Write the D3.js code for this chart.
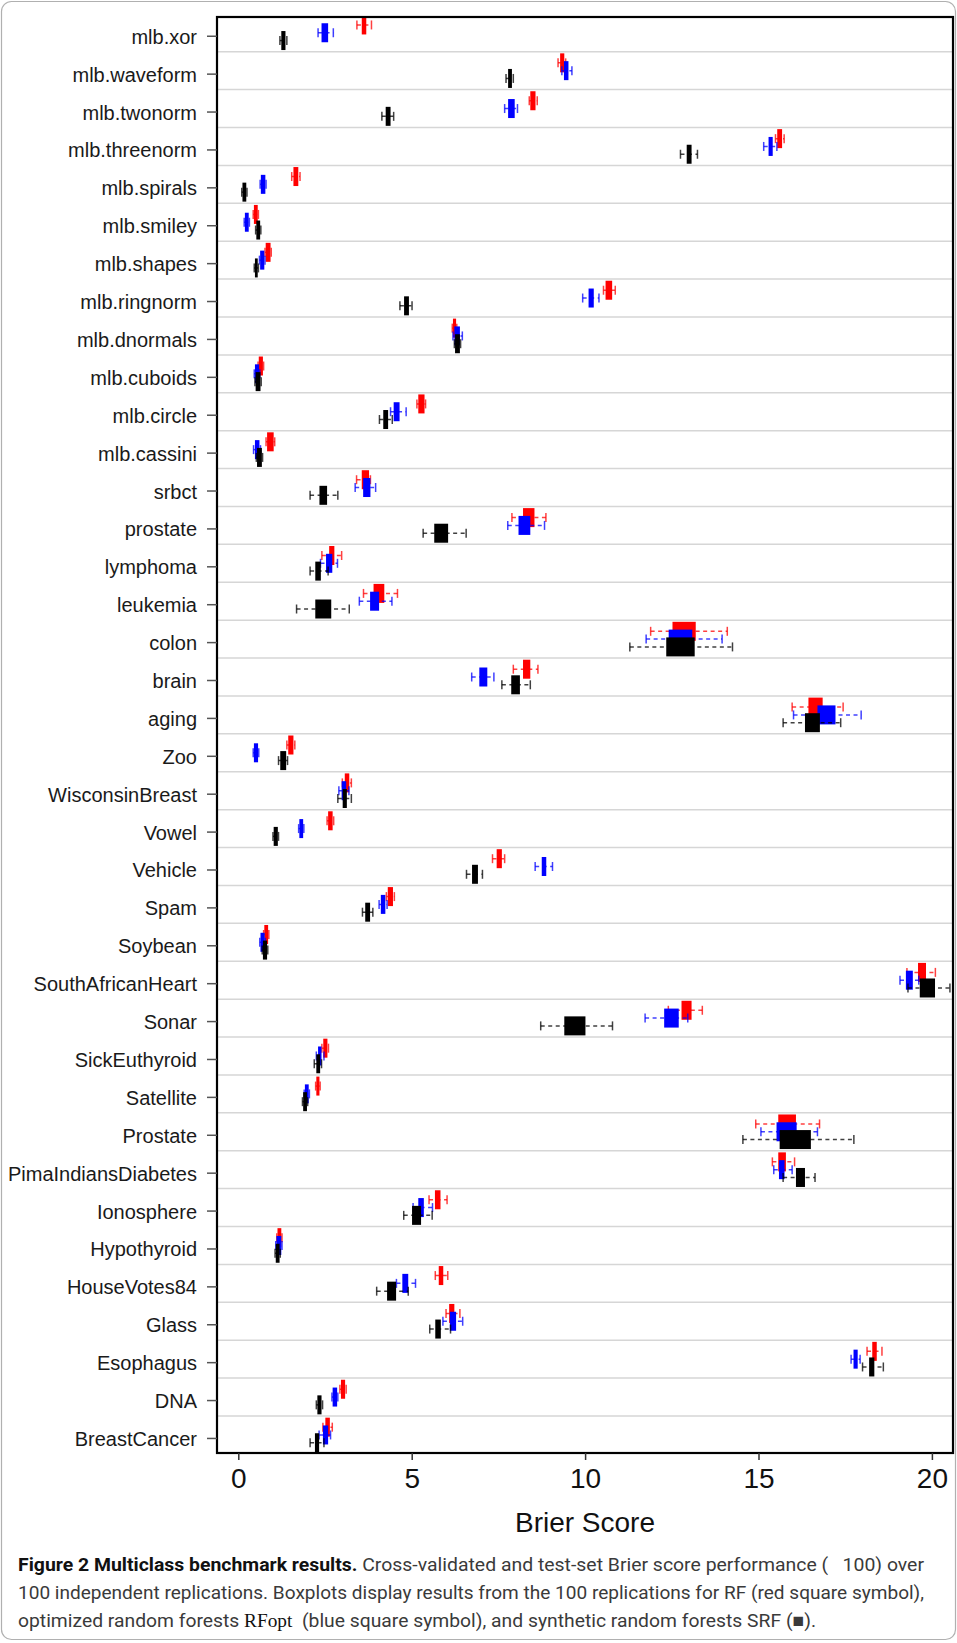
<!DOCTYPE html>
<html>
<head>
<meta charset="utf-8">
<script src="https://cdn.jsdelivr.net/npm/d3@7"></script>
<style>
  body { margin: 0; background: #fff; }
  svg { display: block; }
</style>
</head>
<body>
<svg width="957" height="1643"></svg>
<script>
// Datasets, top to bottom
var datasets = ["mlb.xor", "mlb.waveform", "mlb.twonorm", "mlb.threenorm", "mlb.spirals",
  "mlb.smiley", "mlb.shapes", "mlb.ringnorm", "mlb.dnormals", "mlb.cuboids", "mlb.circle",
  "mlb.cassini", "srbct", "prostate", "lymphoma", "leukemia", "colon", "brain", "aging",
  "Zoo", "WisconsinBreast", "Vowel", "Vehicle", "Spam", "Soybean", "SouthAfricanHeart",
  "Sonar", "SickEuthyroid", "Satellite", "Prostate", "PimaIndiansDiabetes", "Ionosphere",
  "Hypothyroid", "HouseVotes84", "Glass", "Esophagus", "DNA", "BreastCancer"];

// [whisker low, q1, q3, whisker high] for each dataset (Brier score x100)
var rfStats = [
  [3.42,3.56,3.69,3.84], [9.22,9.28,9.40,9.44], [8.39,8.42,8.57,8.62], [15.49,15.54,15.68,15.74],
  [1.54,1.59,1.73,1.78], [0.43,0.45,0.56,0.58], [0.77,0.79,0.93,0.95], [10.53,10.59,10.78,10.87],
  [6.17,6.19,6.28,6.30], [0.57,0.59,0.71,0.73], [5.15,5.19,5.37,5.40], [0.80,0.83,1.02,1.05],
  [3.41,3.56,3.77,3.81], [7.89,8.21,8.54,8.87], [2.41,2.62,2.77,2.98], [3.61,3.90,4.21,4.59],
  [11.89,12.52,13.19,14.10], [7.93,8.21,8.42,8.64], [15.97,16.44,16.85,17.44], [1.40,1.44,1.59,1.63],
  [3.00,3.07,3.20,3.26], [2.56,2.59,2.72,2.75], [7.33,7.45,7.60,7.68], [4.27,4.31,4.46,4.50],
  [0.73,0.75,0.86,0.88], [19.28,19.60,19.83,20.10], [12.40,12.78,13.07,13.38], [2.41,2.45,2.57,2.60],
  [2.23,2.25,2.34,2.36], [14.92,15.57,16.08,16.76], [15.40,15.57,15.79,16.04], [5.50,5.67,5.83,6.02],
  [1.11,1.13,1.24,1.26], [5.68,5.78,5.91,6.04], [5.99,6.08,6.23,6.39], [18.13,18.28,18.41,18.56],
  [2.93,2.96,3.08,3.11], [2.44,2.51,2.64,2.71]
];
var rfoptStats = [
  [2.30,2.40,2.59,2.74], [9.33,9.39,9.52,9.62], [7.68,7.78,7.97,8.05], [15.15,15.29,15.41,15.53],
  [0.63,0.65,0.78,0.80], [0.17,0.19,0.30,0.32], [0.61,0.63,0.75,0.77], [9.93,10.10,10.25,10.40],
  [6.19,6.23,6.39,6.46], [0.46,0.48,0.60,0.62], [4.39,4.48,4.65,4.84], [0.44,0.48,0.61,0.64],
  [3.37,3.60,3.81,3.96], [7.77,8.08,8.42,8.83], [2.37,2.53,2.71,2.86], [3.49,3.80,4.06,4.43],
  [11.76,12.41,13.09,13.95], [6.73,6.95,7.18,7.37], [16.01,16.70,17.22,17.96], [0.43,0.45,0.57,0.59],
  [2.90,2.98,3.11,3.19], [1.74,1.76,1.87,1.89], [8.56,8.75,8.88,9.06], [4.06,4.11,4.24,4.29],
  [0.62,0.64,0.76,0.78], [19.08,19.25,19.45,19.62], [11.73,12.28,12.70,12.96], [2.25,2.30,2.40,2.47],
  [1.90,1.92,2.03,2.05], [15.07,15.52,16.10,16.70], [15.44,15.59,15.75,15.97], [5.04,5.19,5.35,5.60],
  [1.08,1.10,1.24,1.26], [4.56,4.73,4.90,5.11], [5.90,6.10,6.28,6.47], [17.67,17.74,17.86,17.93],
  [2.70,2.72,2.85,2.87], [2.33,2.44,2.59,2.66]
];
var srfStats = [
  [1.20,1.24,1.36,1.40], [7.72,7.78,7.89,7.93], [4.14,4.25,4.39,4.48], [12.75,12.93,13.07,13.24],
  [0.10,0.12,0.23,0.25], [0.50,0.52,0.63,0.65], [0.46,0.48,0.56,0.58], [4.66,4.78,4.92,5.01],
  [6.23,6.25,6.39,6.41], [0.48,0.50,0.64,0.66], [4.07,4.18,4.32,4.44], [0.52,0.54,0.68,0.70],
  [2.07,2.34,2.56,2.87], [5.33,5.65,6.05,6.57], [2.07,2.22,2.38,2.59], [1.68,2.22,2.68,3.20],
  [11.29,12.34,13.16,14.25], [7.60,7.87,8.12,8.42], [15.71,16.34,16.77,17.37], [1.16,1.21,1.38,1.42],
  [2.87,3.01,3.13,3.26], [1.00,1.02,1.14,1.16], [6.58,6.74,6.91,7.04], [3.58,3.66,3.80,3.88],
  [0.69,0.71,0.83,0.85], [19.31,19.65,20.09,20.52], [8.72,9.40,10.01,10.79], [2.19,2.25,2.36,2.40],
  [1.85,1.87,1.98,2.00], [14.55,15.61,16.51,17.75], [15.71,16.08,16.34,16.63], [4.77,5.01,5.27,5.59],
  [1.06,1.08,1.19,1.21], [3.99,4.29,4.55,4.90], [5.52,5.68,5.84,6.12], [18.00,18.19,18.34,18.60],
  [2.25,2.28,2.40,2.43], [2.07,2.21,2.33,2.47]
];

var xTicks = [0, 5, 10, 15, 20];

// Methods are drawn in this order: red first, black on top
var methods = [
  {name: "RF",    color: "#ff0000", stats: rfStats,    offset: -7.8},
  {name: "RFopt", color: "#0000ff", stats: rfoptStats, offset: 0},
  {name: "SRF",   color: "#000000", stats: srfStats,   offset: 7.8}
];

var svg = d3.select("svg"),
    plot = {left: 217, right: 953, top: 17, bottom: 1453},
    boxH = 19, capH = 9;

var x = d3.scaleLinear().domain([0, 20]).range([238.3, 931.9]);
var y = d3.scaleBand().domain(datasets).range([13.8, 1453.9]);

// outer figure border
svg.append("rect")
    .attr("x", 1.5).attr("y", 1.5)
    .attr("width", 954).attr("height", 1638)
    .attr("rx", 10)
    .attr("fill", "none")
    .attr("stroke", "#b0b0b0")
    .attr("stroke-width", 1.2);

svg.append("clipPath").attr("id", "plotclip")
  .append("rect")
    .attr("x", plot.left).attr("y", plot.top)
    .attr("width", plot.right - plot.left).attr("height", plot.bottom - plot.top);

// row separators
svg.append("g")
    .selectAll("line")
    .data(datasets.slice(1))
    .enter().append("line")
      .attr("x1", plot.left).attr("x2", plot.right)
      .attr("y1", function(d){return y(d);})
      .attr("y2", function(d){return y(d);})
      .attr("stroke", "#d6d6d6")
      .attr("stroke-width", 1.5);

var marks = svg.append("g").attr("clip-path", "url(#plotclip)");

methods.forEach(function(m) {
  var g = marks.append("g").attr("class", m.name);
  var rows = g.selectAll("g")
    .data(m.stats.map(function(s, i){return {name: datasets[i], s: s};}))
    .enter().append("g")
      .attr("transform", function(d){
        return "translate(0," + (y(d.name) + y.bandwidth() / 2 + m.offset) + ")";
      });

  // dashed whiskers
  rows.append("line")
      .attr("x1", function(d){return x(d.s[0]);})
      .attr("x2", function(d){return x(d.s[3]);})
      .attr("stroke", m.color)
      .attr("stroke-opacity", 0.75)
      .attr("stroke-width", 1.5)
      .attr("stroke-dasharray", "4,3.5");

  // whisker caps
  [0, 3].forEach(function(k) {
    rows.append("line")
        .attr("x1", function(d){return x(d.s[k]);})
        .attr("x2", function(d){return x(d.s[k]);})
        .attr("y1", -capH / 2).attr("y2", capH / 2)
        .attr("stroke", m.color)
        .attr("stroke-opacity", 0.75)
        .attr("stroke-width", 1.5);
  });

  // box q1..q3
  rows.append("rect")
      .attr("x", function(d){return x(d.s[1]);})
      .attr("width", function(d){return x(d.s[2]) - x(d.s[1]);})
      .attr("y", -boxH / 2)
      .attr("height", boxH)
      .attr("fill", m.color);
});

// plot frame
svg.append("rect")
    .attr("x", plot.left).attr("y", plot.top)
    .attr("width", plot.right - plot.left).attr("height", plot.bottom - plot.top)
    .attr("fill", "none")
    .attr("stroke", "#000")
    .attr("stroke-width", 2.2);

// y axis: ticks and labels
var yAxis = svg.append("g");
yAxis.selectAll("line")
    .data(datasets)
    .enter().append("line")
      .attr("x1", 207).attr("x2", plot.left)
      .attr("y1", function(d){return y(d) + y.bandwidth() / 2 + 3.5;})
      .attr("y2", function(d){return y(d) + y.bandwidth() / 2 + 3.5;})
      .attr("stroke", "#555")
      .attr("stroke-width", 1.5);
yAxis.selectAll("text")
    .data(datasets)
    .enter().append("text")
      .attr("x", 197)
      .attr("y", function(d){return y(d) + y.bandwidth() / 2 + 11;})
      .attr("text-anchor", "end")
      .attr("font-family", "Liberation Sans, Arial, sans-serif")
      .attr("font-size", 20)
      .attr("fill", "#1a1a1a")
      .text(function(d){return d;});

// x axis
var xAxis = svg.append("g")
    .attr("transform", "translate(0," + plot.bottom + ")")
    .call(d3.axisBottom(x).tickValues(xTicks).tickSize(7).tickPadding(8).tickFormat(d3.format("d")));
xAxis.select(".domain").remove();
xAxis.selectAll(".tick line").attr("stroke", "#333").attr("stroke-width", 1.5);
xAxis.selectAll(".tick text")
    .attr("font-family", "Liberation Sans, Arial, sans-serif")
    .attr("font-size", 28)
    .attr("fill", "#111");

svg.append("text")
    .attr("x", 585).attr("y", 1532)
    .attr("text-anchor", "middle")
    .attr("font-family", "Liberation Sans, Arial, sans-serif")
    .attr("font-size", 28)
    .attr("fill", "#111")
    .text("Brier Score");

// caption
var capFont = "Liberation Sans Narrow, Roboto, Noto Sans, sans-serif";
var cap1 = svg.append("text")
    .attr("x", 18).attr("y", 1571)
    .attr("font-family", capFont).attr("font-size", 19).attr("fill", "#3a3a3a")
    .attr("textLength", 906).attr("lengthAdjust", "spacingAndGlyphs");
cap1.append("tspan").attr("font-weight", "bold").attr("fill", "#111")
    .text("Figure 2 Multiclass benchmark results.");
cap1.append("tspan").text(" Cross-validated and test-set Brier score performance (\u00a0\u00a0\u00a0100) over");

svg.append("text")
    .attr("x", 18).attr("y", 1599)
    .attr("font-family", capFont).attr("font-size", 19).attr("fill", "#3a3a3a")
    .attr("textLength", 906).attr("lengthAdjust", "spacingAndGlyphs")
    .text("100 independent replications. Boxplots display results from the 100 replications for RF (red square symbol),");

var cap3 = svg.append("text")
    .attr("x", 18).attr("y", 1627)
    .attr("font-family", capFont).attr("font-size", 19).attr("fill", "#3a3a3a")
    .attr("textLength", 798).attr("lengthAdjust", "spacingAndGlyphs");
cap3.append("tspan").text("optimized random forests ");
cap3.append("tspan").attr("font-family", "Liberation Serif, Times New Roman, serif").attr("fill", "#111").text("RFopt");
cap3.append("tspan").text("\u00a0 (blue square symbol), and synthetic random forests SRF (\u25a0).");
</script>
</body>
</html>
